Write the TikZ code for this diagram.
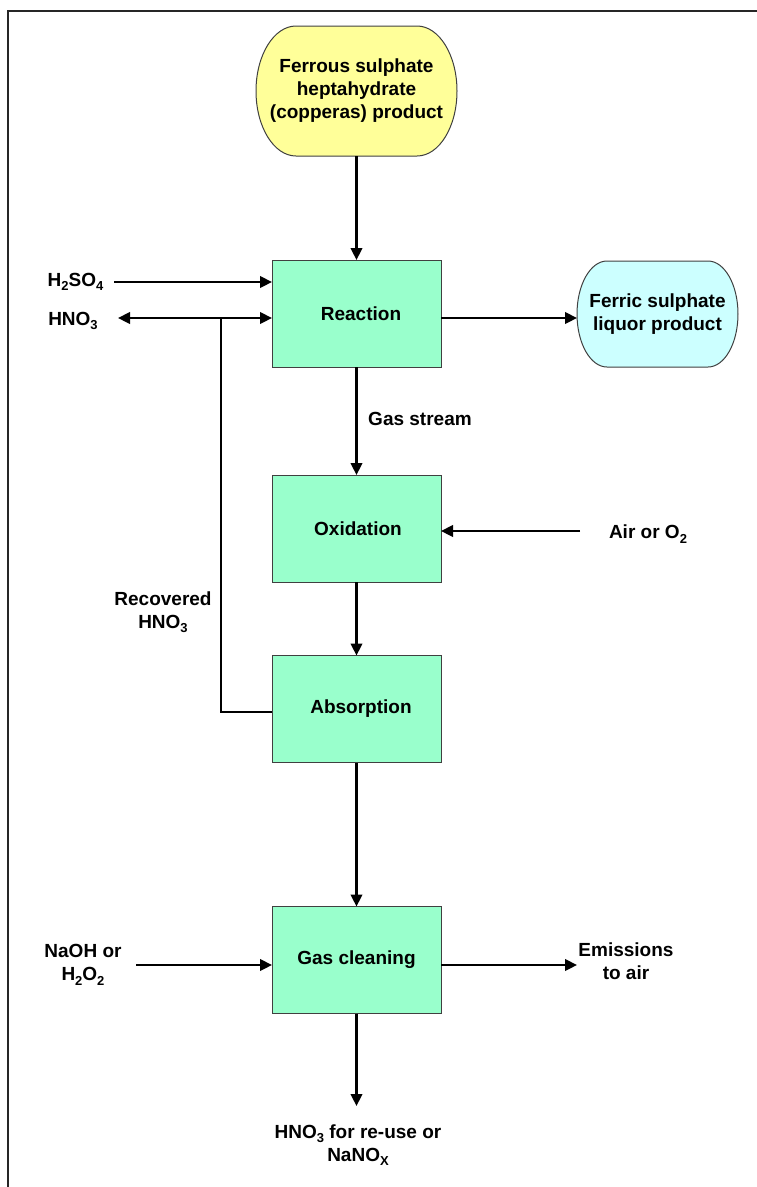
\documentclass[tikz,border=0pt]{standalone}
\usepackage{fontspec}
\setmainfont{Liberation Sans}
\usetikzlibrary{arrows.meta}
\definecolor{boxgreen}{HTML}{99FFCC}
\definecolor{prodyellow}{HTML}{FFFF99}
\definecolor{prodcyan}{HTML}{CCFFFF}
\definecolor{edgegray}{HTML}{404040}
\pgfdeclarelayer{bg}
\pgfsetlayers{bg,main}
\newcommand\chemsub[1]{\raisebox{-4.5pt}{\fontsize{13}{13}\selectfont #1}}
\newcommand\shifttext[3]{\raisebox{#2}{\hspace*{#1}#3}}
\begin{document}
\begin{tikzpicture}[x=1pt,y=1pt,
  font=\fontsize{19}{23}\selectfont\bfseries,
  proc/.style={draw=edgegray, line width=1pt, fill=boxgreen, minimum width=169pt, minimum height=107pt, inner sep=0pt, outer sep=0pt},
  prodnode/.style={align=center, inner sep=0pt, outer sep=0pt},
  prodshape/.style={draw=edgegray, line width=1pt},
  lbl/.style={align=center, inner sep=0pt},
  arr/.style={line width=2.4pt, -{Triangle[length=12pt,width=11.5pt]}},
  arrboth/.style={line width=2.4pt, {Triangle[length=12pt,width=11.5pt]}-{Triangle[length=12pt,width=11.5pt]}},
  recline/.style={line width=1.7pt},
  frameline/.style={line width=1.5pt, draw=black!85}
]
\useasboundingbox (0,0) rectangle (757,-1187);
\clip (0,0) rectangle (757,-1187);

% frame
\draw[frameline] (8,-1200) -- (8,-11) -- (770,-11);

% product nodes
\node[prodnode, minimum width=201pt, minimum height=130pt] (copperas) at (356.5,-91)
  {Ferrous sulphate\\heptahydrate\\(copperas) product};
\node[prodnode, minimum width=161pt, minimum height=106pt] (ferric) at (657.5,-314)
  {Ferric sulphate\\liquor product};

\begin{pgfonlayer}{bg}
\draw[prodshape, fill=prodyellow]
  ([xshift=40pt]copperas.north west) -- ([xshift=-40pt]copperas.north east)
  arc[start angle=90, end angle=-90, x radius=40pt, y radius=65pt]
  -- ([xshift=40pt]copperas.south west)
  arc[start angle=270, end angle=90, x radius=40pt, y radius=65pt] -- cycle;
\draw[prodshape, fill=prodcyan]
  ([xshift=30pt]ferric.north west) -- ([xshift=-30pt]ferric.north east)
  arc[start angle=90, end angle=-90, x radius=30pt, y radius=53pt]
  -- ([xshift=30pt]ferric.south west)
  arc[start angle=270, end angle=90, x radius=30pt, y radius=53pt] -- cycle;
\end{pgfonlayer}

% process boxes
\node[proc] (reaction) at (356.5,-313.5) {\shifttext{9pt}{0pt}{Reaction}};
\node[proc] (oxidation) at (356.5,-528.5) {\shifttext{3pt}{-4pt}{Oxidation}};
\node[proc] (absorption) at (356.5,-709) {\shifttext{9pt}{-1pt}{Absorption}};
\node[proc] (cleaning) at (356.5,-960) {\shifttext{0pt}{-1pt}{Gas cleaning}};

% labels
\node[lbl, anchor=base] (h2so4) at (75.5,-286) {H\chemsub{2}SO\chemsub{4}};
\node[lbl, anchor=base] (hno3) at (73,-325) {HNO\chemsub{3}};
\node[lbl, anchor=base] (gasstream) at (420,-425) {Gas stream};
\node[lbl, anchor=base] (air) at (648,-538.5) {Air or O\chemsub{2}};
\node[lbl] (recovered) at (163,-612) {Recovered\\HNO\chemsub{3}};
\node[lbl] (naoh) at (83,-965) {NaOH or\\H\chemsub{2}O\chemsub{2}};
\node[lbl] (emissions) at (626,-961) {Emissions\\to air};
\node[lbl] (hnoout) at (358,-1145) {HNO\chemsub{3} for re-use or\\NaNO\chemsub{X}};

% connector coordinates
\coordinate (h2sStart) at (114,-282);
\coordinate (hnoStart) at (118,-318);
\coordinate (recJoin) at (221,-318);
\coordinate (recY) at (0,-712);
\coordinate (fY) at (0,-318);
\coordinate (airStart) at (580,-531);
\coordinate (naStart) at (136,-965);
\coordinate (emEnd) at (577,-965);
\coordinate (outEnd) at (356.5,-1106);

% connectors
\draw[arr] (copperas.south) -- (reaction.north);
\draw[arr] (h2sStart) -- (h2sStart -| reaction.west);
\draw[arrboth] (hnoStart) -- (hnoStart -| reaction.west);
\draw[recline] (absorption.west |- recY) -| (recJoin);
\draw[arr] (reaction.east |- fY) -- (ferric.west |- fY);
\draw[arr] (reaction.south) -- (oxidation.north);
\draw[arr] (airStart) -- (airStart -| oxidation.east);
\draw[arr] (oxidation.south) -- (absorption.north);
\draw[arr] (absorption.south) -- (cleaning.north);
\draw[arr] (naStart) -- (naStart -| cleaning.west);
\draw[arr] (emEnd -| cleaning.east) -- (emEnd);
\draw[arr] (cleaning.south) -- (outEnd);
\end{tikzpicture}
\end{document}
